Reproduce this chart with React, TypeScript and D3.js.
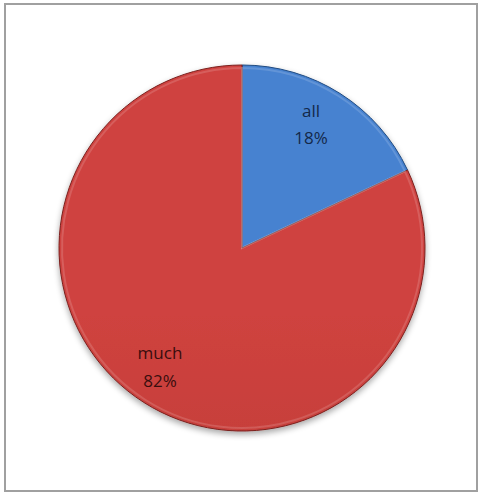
import React, { useEffect, useRef } from 'react';
import * as d3 from 'd3';

const categories = ['all', 'much'];
const values = [18, 82];
const percentLabels = ['18%', '82%'];

const W = 478;
const H = 493;

const App: React.FC = () => {
  const svgRef = useRef<SVGSVGElement>(null);

  useEffect(() => {
    if (!svgRef.current) return;
    const svg = d3.select(svgRef.current);
    svg.selectAll('*').remove();

    const cx = 242;
    const cy = 248;
    const radius = 183;

    const defs = svg.append('defs');
    const grads = [
      { id: 'g-all', top: '#4682d0', bottom: '#336ab6', edge: '#1f4a80' },
      { id: 'g-much', top: '#cf433f', bottom: '#b73532', edge: '#7a201e' },
    ];
    grads.forEach(g => {
      const lg = defs.append('linearGradient')
        .attr('id', g.id)
        .attr('gradientUnits', 'userSpaceOnUse')
        .attr('x1', 0).attr('y1', cy - radius)
        .attr('x2', 0).attr('y2', cy + radius);
      lg.append('stop').attr('offset', '0%').attr('stop-color', g.top);
      lg.append('stop').attr('offset', '100%').attr('stop-color', g.bottom);
    });

    const shadow = defs.append('filter').attr('id', 'shadow')
      .attr('x', '-20%').attr('y', '-20%').attr('width', '140%').attr('height', '140%');
    shadow.append('feGaussianBlur').attr('in', 'SourceAlpha').attr('stdDeviation', 3);
    shadow.append('feOffset').attr('dx', 0).attr('dy', 3).attr('result', 'off');
    shadow.append('feComponentTransfer').append('feFuncA').attr('type', 'linear').attr('slope', 0.35);
    const merge = shadow.append('feMerge');
    merge.append('feMergeNode');
    merge.append('feMergeNode').attr('in', 'SourceGraphic');

    // frame
    svg.append('rect')
      .attr('x', 5).attr('y', 4)
      .attr('width', W - 6).attr('height', H - 6)
      .attr('fill', '#fff')
      .attr('stroke', '#a0a0a0')
      .attr('stroke-width', 2);

    const pie = d3.pie<number>().sort(null).value(d => d);
    const arcs = pie(values);

    const arc = d3.arc<d3.PieArcDatum<number>>().innerRadius(0).outerRadius(radius);
    const bevel = d3.arc<d3.PieArcDatum<number>>().innerRadius(0).outerRadius(radius - 3);
    const labelArc = d3.arc<d3.PieArcDatum<number>>().innerRadius(140).outerRadius(140);

    const g = svg.append('g').attr('transform', `translate(${cx},${cy})`);

    g.append('g')
      .attr('filter', 'url(#shadow)')
      .selectAll('path')
      .data(arcs)
      .enter().append('path')
      .attr('d', arc)
      .attr('fill', (_, i) => `url(#${grads[i].id})`)
      .attr('stroke', (_, i) => grads[i].edge)
      .attr('stroke-width', 1);

    // soft highlight edge
    g.append('g')
      .selectAll('path')
      .data(arcs)
      .enter().append('path')
      .attr('d', bevel)
      .attr('fill', 'none')
      .attr('stroke', '#ffffff')
      .attr('stroke-opacity', 0.15)
      .attr('stroke-width', 2);

    const textColors = ['#14294a', '#3a0e0e'];
    const offsets = [[-6, -6], [-7, 0]];
    const labels = g.append('g')
      .selectAll('text')
      .data(arcs)
      .enter().append('text')
      .attr('transform', (d, i) => {
        const [x, y] = labelArc.centroid(d);
        return `translate(${x + offsets[i][0]},${y + offsets[i][1]})`;
      })
      .attr('text-anchor', 'middle')
      .attr('font-family', 'Open Sans, Liberation Sans, sans-serif')
      .attr('font-size', 17)
      .attr('fill', (_, i) => textColors[i]);

    labels.append('tspan')
      .attr('x', 0).attr('dy', '-0.4em')
      .text((_, i) => categories[i]);
    labels.append('tspan')
      .attr('x', 0).attr('dy', '1.6em')
      .text((_, i) => percentLabels[i]);
  }, []);

  return (
    <div style={{ position: 'absolute', left: 0, top: 0, width: W, height: H }}>
      <svg ref={svgRef} width={W} height={H} style={{ display: 'block' }} />
    </div>
  );
};

export default App;
